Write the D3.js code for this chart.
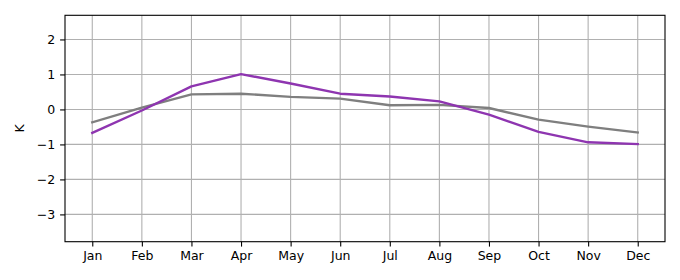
<!DOCTYPE html>
<html lang="en">
<head>
    <meta charset="UTF-8">
    <title>Monthly anomaly (K)</title>
    <style>
        body { margin: 0; background: #fff; }
        svg { display: block; font-family: 'DejaVu Sans', sans-serif; }
        .grid line { stroke: #b0b0b0; stroke-width: 1.1px; }
        .axis path, .axis line { stroke: #000; stroke-width: 1.1px; }
        .axis text { font-size: 12.5px; fill: #000; font-family: 'DejaVu Sans', sans-serif; }
    </style>
</head>
<body>
    <svg id="chart" width="680" height="280"></svg>
    <script src="https://d3js.org/d3.v7.min.js"></script>
    <script>
        // data
        const months = ["Jan", "Feb", "Mar", "Apr", "May", "Jun", "Jul", "Aug", "Sep", "Oct", "Nov", "Dec"];
        const graySeries = [-0.37, 0.05, 0.43, 0.45, 0.36, 0.31, 0.12, 0.13, 0.04, -0.29, -0.49, -0.66];
        const purpleSeries = [-0.67, -0.03, 0.66, 1.01, 0.74, 0.45, 0.37, 0.23, -0.15, -0.64, -0.94, -0.99];
        const yTicks = [-3, -2, -1, 0, 1, 2];

        const svg = d3.select("#chart");
        const margin = {left: 65, right: 15, top: 15.3, bottom: 38.3};
        const width = 680, height = 280;
        const x0 = margin.left, x1 = width - margin.right;
        const y0 = margin.top, y1 = height - margin.bottom;

        const x = d3.scaleLinear().domain([-0.55, 11.55]).range([x0, x1]);
        const y = d3.scaleLinear().domain([-3.78, 2.69]).range([y1, y0]);

        // grid
        const grid = svg.append("g").attr("class", "grid");
        grid.selectAll(".gx").data(months).enter().append("line")
            .attr("x1", (d, i) => x(i)).attr("x2", (d, i) => x(i))
            .attr("y1", y0).attr("y2", y1);
        grid.selectAll(".gy").data(yTicks).enter().append("line")
            .attr("x1", x0).attr("x2", x1)
            .attr("y1", d => y(d)).attr("y2", d => y(d));

        // lines
        const line = d3.line().x((d, i) => x(i)).y(d => y(d));
        svg.append("path").datum(graySeries)
            .attr("fill", "none").attr("stroke", "#7f7f7f").attr("stroke-width", 2.4)
            .attr("stroke-linejoin", "round").attr("stroke-linecap", "square")
            .attr("d", line);
        svg.append("path").datum(purpleSeries)
            .attr("fill", "none").attr("stroke", "#8e35b0").attr("stroke-width", 2.4)
            .attr("stroke-linejoin", "round").attr("stroke-linecap", "square")
            .attr("d", line);

        // axes
        const xAxis = d3.axisBottom(x).tickValues(d3.range(12))
            .tickFormat(i => months[i]).tickSize(4.9).tickPadding(4.9);
        svg.append("g").attr("class", "axis")
            .attr("transform", `translate(0,${y1})`)
            .call(xAxis)
            .call(g => g.select(".domain").remove());

        const yAxis = d3.axisLeft(y).tickValues(yTicks)
            .tickFormat(d => d < 0 ? "\u2212" + Math.abs(d) : d).tickSize(4.9).tickPadding(4.9);
        svg.append("g").attr("class", "axis")
            .attr("transform", `translate(${x0},0)`)
            .call(yAxis)
            .call(g => g.select(".domain").remove());

        // frame
        svg.append("rect")
            .attr("x", x0).attr("y", y0)
            .attr("width", x1 - x0).attr("height", y1 - y0)
            .attr("fill", "none").attr("stroke", "#000").attr("stroke-width", 1.1);

        // y label
        svg.append("text")
            .attr("transform", `translate(24,${(y0 + y1) / 2}) rotate(-90)`)
            .attr("text-anchor", "middle")
            .attr("font-size", "12.5px")
            .text("K");
    </script>
</body>
</html>
